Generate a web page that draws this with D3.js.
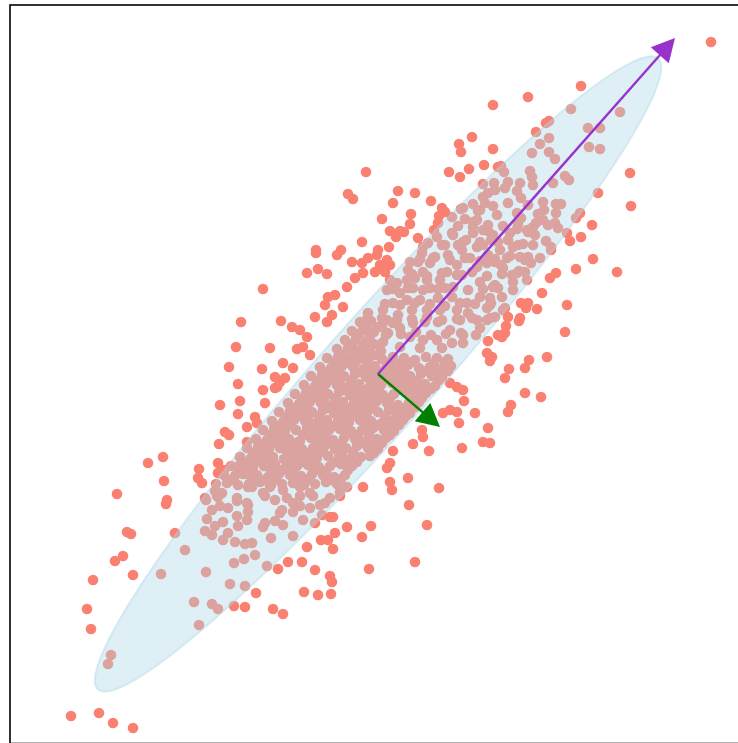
<!DOCTYPE html>
<html>
<head>
<meta charset="utf-8">
<script src="https://cdn.jsdelivr.net/npm/d3@7"></script>
<style>
  body { margin: 0; background: #fff; }
</style>
</head>
<body>
<div id="chart"></div>
<script>
// sample points, [x, y] in data units (mean at 0,0)
const upperPts = [
  [1.15,2.69],[0.94,2.37],[0.81,2.30],[0.83,2.22],[1.15,2.25],[1.06,2.09],[0.91,2.05],[0.71,2.02],[0.82,1.97],
  [-0.12,2.02],[-0.30,1.80],[-0.25,1.75],[0.20,1.83],[0.37,1.81],[0.15,1.71],[0.53,1.73],[0.33,1.60],[0.04,1.55],
  [0.32,1.50],[0.12,1.43],[0.22,1.43],[0.26,1.42],[0.18,1.37],[0.40,1.36],[0.64,1.66],[0.61,1.58],[0.56,1.44],
  [-0.16,1.32],[0.11,1.27],[0.00,1.24],[-0.37,1.24],[-0.62,1.24],[0.02,1.09],[0.12,1.09],[0.07,1.02],
  [1.20,2.07],[1.16,1.91],[1.05,1.77],[1.10,1.81],[1.00,1.63],[0.83,1.65],[0.87,1.55],[0.95,1.52],[0.74,1.57],
  [1.05,1.44],[1.10,1.43],[0.75,1.39],[0.88,1.34],[0.45,1.27],[0.64,1.29],[1.05,1.29],[1.19,1.59],
  [3.33,3.32],[2.03,2.88],[1.50,2.77],[2.52,2.01],[2.53,1.68],[2.20,1.81],[2.14,1.49],[2.03,1.37],[1.92,1.33],
  [1.93,2.65],[2.42,2.62],[1.71,2.53],[1.68,2.51],[1.58,2.42],[2.10,2.46],[2.22,2.46],[1.71,2.36],[1.62,2.30],
  [1.71,2.22],[1.54,2.21],[2.11,2.27],[2.22,2.25],[1.77,2.15],[1.23,2.08],[1.26,2.02],[1.52,2.03],[1.54,1.97],
  [1.87,1.98],[1.91,1.94],[1.42,1.91],[1.27,1.86],[1.17,1.84],[1.39,1.83],[1.43,1.76],[1.78,1.70],[1.83,1.70],
  [1.66,1.64],[1.60,1.60],[1.78,1.61],[2.02,1.61],[1.98,1.56],[1.43,1.56],[1.65,1.54],[1.58,1.51],[1.77,1.51],
  [1.80,1.46],[1.39,1.45],[1.50,1.42],[1.57,1.39],[1.89,1.41],[1.30,1.34],[1.13,1.34],[1.55,1.29],[1.73,1.27],[1.35,1.27]
];

const upperFill = [
  [0.50,1.31],[0.80,1.29],[1.20,1.32],[1.45,1.30],[1.68,1.33],
  [0.80,1.48],[0.95,1.47],[1.10,1.49],[1.25,1.48],[1.40,1.50],[1.55,1.47],[1.70,1.49],
  [0.95,1.70],[1.15,1.68],[1.30,1.71],[1.50,1.69],[1.65,1.72],
  [1.05,1.90],[1.30,1.92],[1.55,1.89],[1.75,1.91]
];

const centerUpperPts = [
  [0.85,1.66],[1.02,1.64],[1.07,1.71],[1.39,1.61],[1.49,1.44],[0.99,1.54],[0.67,1.62],[0.95,1.41],[0.74,1.41],
  [0.85,1.32],[1.02,1.32],[1.15,1.39],[1.32,1.41],[1.40,1.29],[1.22,1.24],[1.10,1.19],[0.99,1.27],[0.84,1.24],
  [0.67,1.29],[0.59,1.37],[0.60,1.51],[0.52,1.11],[0.44,1.21],[0.40,1.12],[0.32,1.12],[0.30,1.04],[0.45,1.02],
  [0.55,1.16],[0.70,1.19],[0.79,1.09],[0.92,1.16],[0.69,1.02],[0.84,0.99],[0.62,0.94],[0.49,0.94],[0.37,0.96],
  [0.29,0.94],[0.19,0.91],[0.12,0.94],[0.09,0.84],[0.22,0.81],[0.35,0.86],[0.52,0.86],[0.67,0.86],[0.74,0.77],
  [0.60,0.76],[0.42,0.74],[0.29,0.74],[0.15,0.71],[0.05,0.64],[0.09,0.54],[0.20,0.59],[0.34,0.64],[0.49,0.64],
  [0.62,0.64],[0.79,0.64],[0.89,0.71],[1.02,0.77],[1.12,0.76],[1.15,0.87],[1.02,0.92],[0.99,1.07],[1.09,1.11],
  [1.17,1.12],[1.25,1.06],[1.34,0.99],[1.35,0.92],[1.47,1.02],[1.42,1.17],[1.29,1.16],[1.24,0.77],[1.25,0.64],
  [1.09,0.66],[0.90,0.61],[0.82,0.54],[0.99,0.54],[1.12,0.56],[1.02,0.46],[0.85,0.39],[0.72,0.44],[0.60,0.52],
  [0.47,0.52],[0.35,0.51],[0.22,0.46],[0.10,0.41],[0.05,0.32],[0.32,0.37],[0.45,0.34],[0.59,0.34],[0.74,0.31],
  [0.85,0.31],[0.64,0.26],[0.42,0.26],[0.22,0.27],[0.04,0.47],[0.15,0.51]
];

const centerFill = [
  [0.42,1.15],[0.57,1.17],[0.72,1.14],[0.87,1.16],[1.02,1.13],[1.17,1.15],[1.32,1.18],[1.47,1.14],[1.62,1.16],
  [0.34,1.00],[0.49,0.98],[0.64,1.01],[0.79,0.99],[0.94,1.02],[1.09,0.98],[1.24,1.00],[1.39,1.01],
  [0.15,0.85],[0.30,0.86],[0.45,0.84],[0.60,0.85],[0.75,0.87],[0.90,0.84],[1.05,0.85],[1.20,0.86],[1.35,0.84],
  [0.07,0.70],[0.22,0.69],[0.37,0.71],[0.52,0.70],[0.67,0.68],[0.82,0.71],[0.97,0.70],[1.12,0.69],
  [-0.11,0.55],[0.04,0.56],[0.19,0.54],[0.34,0.55],[0.49,0.57],[0.64,0.54],[0.79,0.55],[0.94,0.56],[1.09,0.54],
  [-0.22,0.40],[-0.07,0.41],[0.08,0.39],[0.23,0.40],[0.38,0.42],[0.53,0.39],[0.68,0.40],[0.83,0.41],[0.98,0.39]
];

const rightPts = [
  [2.15,1.15],[1.98,1.05],[2.39,1.02],[1.78,1.01],[1.72,0.96],[1.64,0.81],[1.89,0.69],[1.50,0.71],[1.43,0.71],
  [1.48,0.66],[1.59,0.65],[1.30,0.57],[1.42,0.56],[1.41,0.53],[1.28,0.48],[1.87,0.42],[1.27,0.41],[1.24,0.37],
  [1.10,0.33],[1.69,0.17],[1.51,0.14],[1.14,0.17],[1.12,0.13],[1.47,0.06],[1.31,0.05],[1.27,-0.04],[1.47,-0.19],
  [1.63,-0.23],[1.33,-0.31],[1.30,-0.38],[1.10,-0.54],[1.12,-0.69],
  [1.23,1.09],[1.41,1.03],[1.49,0.94],[1.17,0.89],[1.13,0.71],[1.27,0.66],[1.17,0.57],[1.50,1.17],[1.53,1.11],[1.73,1.24]
];

const middlePts = [
  [-1.15,0.85],[-0.71,1.01],[-0.60,1.05],[-0.51,1.00],[-0.62,1.21],[-0.41,1.19],[-0.16,1.11],[-0.15,1.01],
  [-0.03,1.02],[-0.01,1.19],[0.09,1.14],[-0.50,0.77],[-0.43,0.79],[-0.35,0.67],[-0.53,0.69],[-0.63,0.57],
  [-0.51,0.52],[-0.46,0.59],[-0.97,0.53],[-0.86,0.47],[-0.71,0.37],[-0.81,0.25],[-0.75,0.27],[-1.08,0.26],
  [-0.95,0.11],[-0.85,0.06],[-1.16,0.05],[-1.03,-0.03],[-0.93,-0.04],[-1.01,-0.13],[-1.15,-0.16],[-1.13,-0.29],
  [-1.23,-0.43],[0.79,-0.13],[0.85,-0.16],[0.72,-0.09],[0.86,-0.27],[0.72,-0.36],[0.65,-0.39],[0.79,-0.38],
  [0.97,-0.39],[1.09,0.21],[1.20,0.39],[0.81,-0.49],[1.05,-0.68],[0.84,-0.74],[0.51,-0.77],[0.35,-0.70],
  [0.45,-0.63],[0.44,-0.56],[0.15,-0.77],[0.12,-0.89],[0.09,-0.94],[0.30,-1.04],[0.12,-1.08],[0.14,-1.16],
  [0.61,-1.14],[-0.15,-1.13],[-0.26,1.12],[-0.10,1.16],[-0.23,0.96],[-0.31,0.87],[-0.68,0.19],[-0.78,0.44],
  [-1.03,-0.14],[-1.21,-0.49],[-0.98,-0.08]
];

const lowerPts = [
  [-1.37,0.52],[-1.42,0.27],[-1.49,0.07],[-1.40,-0.10],[-1.38,-0.27],[-1.58,-0.31],[-1.40,-0.40],[-1.31,-0.53],
  [-1.53,-0.58],[-1.49,-0.61],[-1.59,-0.70],[-1.31,-0.68],[-1.60,-0.89],[-1.60,-0.99],[-1.54,-0.96],[-1.79,-0.95],
  [-1.80,-1.04],[-1.76,-1.09],[-2.15,-0.83],[-2.30,-0.89],[-2.14,-1.07],[-2.61,-1.20],[-2.11,-1.26],
  [-1.38,-0.83],[-1.39,-0.92],[-1.35,-1.00],[-1.30,-1.13],[-1.63,-1.17],[-1.60,-1.23],[-1.73,-1.24],[-1.41,-1.24],
  [-2.12,-1.30],[-2.51,-1.58],[-2.47,-1.60],[-2.03,-1.59],[-2.55,-1.82],[-2.63,-1.87],[-2.45,-2.01],[-2.85,-2.06],
  [-2.91,-2.35],[-2.87,-2.55],[-3.07,-3.42],[-2.79,-3.39],[-2.65,-3.49],[-2.45,-3.54],[-1.44,-2.32],[-1.33,-2.33],
  [-1.93,-1.76],[-2.17,-2.00],[-1.72,-1.98],[-1.84,-2.28],[-1.66,-2.30],[-1.60,-2.35],[-1.79,-2.51],[-2.67,-2.81],
  [-2.70,-2.90],[-1.48,-2.10],[-1.33,-2.12],[-1.44,-1.89],[-1.34,-1.85],[-1.43,-1.68],[-1.33,-1.70],[-1.55,-1.66],
  [-1.50,-1.59],[-1.66,-1.61],[-1.73,-1.57],[-1.63,-1.52],[-1.55,-1.48],[-1.40,-1.52],[-1.41,-1.42],[-1.31,-1.46],
  [-1.71,-1.45],[-1.66,-1.36],[-1.58,-1.32],[-1.50,-1.34],[-1.41,-1.27],[-1.72,-1.26],[-1.61,-1.22],[-1.30,-1.31],
  [0.31,-1.31],[0.49,-1.51],[-0.07,-1.52],[-0.31,-1.53],[-0.16,-1.63],[-0.43,-1.59],[-0.57,-1.66],[-0.50,-1.66],
  [-0.48,-1.43],[-0.45,-1.75],[-0.71,-1.73],[-0.90,-1.88],[-0.76,-1.88],[-1.00,-1.95],[-0.63,-1.96],[-0.48,-2.02],
  [-0.46,-2.08],[-0.09,-1.95],[0.37,-1.88],[-0.74,-2.18],[-0.60,-2.21],[-0.47,-2.20],[-1.22,-2.19],[-1.05,-2.35],
  [-0.95,-2.40],
  [-1.13,-1.22],[-1.03,-1.26],[-0.91,-1.24],[-0.78,-1.22],[-0.65,-1.22],[-0.85,-1.29],[-0.78,-1.32],[-0.68,-1.34],
  [-0.96,-1.36],[-0.53,-1.29],[-0.38,-1.22],[-1.13,-1.49],[-1.03,-1.47],[-0.95,-1.51],[-0.85,-1.62],[-1.07,-1.64],
  [-0.63,-1.49],[-1.26,-1.69],[-1.23,-1.81],[-1.11,-1.92],[-0.56,-1.41],
  [-1.31,-1.29],[-1.30,-1.38],[-0.98,-1.39],[-0.85,-1.38],[-0.75,-1.46],[-1.15,-1.53],[-0.45,-1.43],[-0.58,-1.31],
  [-0.48,-1.24],[-0.95,-1.16],[-0.78,-1.13],[-0.68,-1.19],[-0.38,-1.18],[-0.31,-1.13],[-1.08,-1.13],[-1.26,-1.13],
  [-1.15,-1.19],[-1.56,-1.19]
];

// dense core around the mean
const corePts = [
  [-0.10,0.61],[-0.18,0.52],[-0.07,0.53],[-0.26,0.43],[-0.15,0.44],[-0.04,0.42],[-0.33,0.34],[-0.22,0.35],
  [-0.11,0.33],[-0.41,0.25],[-0.30,0.26],[-0.19,0.24],[-0.08,0.25],[0.03,0.23],
  [-0.51,0.16],[-0.40,0.17],[-0.29,0.15],[-0.18,0.16],[-0.07,0.18],[0.04,0.15],[0.15,0.17],[0.26,0.16],[0.37,0.14],[0.48,0.17],[0.59,0.16],[0.70,0.15],
  [-0.58,0.07],[-0.47,0.06],[-0.36,0.08],[-0.25,0.07],[-0.14,0.05],[-0.03,0.08],[0.08,0.06],[0.19,0.07],[0.30,0.09],[0.41,0.06],[0.52,0.07],[0.63,0.05],[0.73,0.08],
  [-0.67,-0.02],[-0.56,-0.01],[-0.45,-0.03],[-0.34,-0.02],[-0.23,0.00],[-0.12,-0.03],[-0.01,-0.02],[0.10,-0.01],[0.21,-0.03],[0.32,-0.02],[0.43,0.00],[0.54,-0.02],[0.64,-0.03],
  [-0.74,-0.11],[-0.63,-0.12],[-0.52,-0.10],[-0.41,-0.11],[-0.30,-0.13],[-0.19,-0.10],[-0.08,-0.12],[0.03,-0.11],[0.14,-0.09],[0.25,-0.12],[0.36,-0.11],[0.47,-0.10],[0.57,-0.12],
  [-0.83,-0.20],[-0.72,-0.19],[-0.61,-0.21],[-0.50,-0.20],[-0.39,-0.18],[-0.28,-0.21],[-0.17,-0.20],[-0.06,-0.19],[0.05,-0.21],[0.16,-0.20],[0.27,-0.18],[0.38,-0.21],[0.48,-0.19],
  [-0.90,-0.29],[-0.79,-0.30],[-0.68,-0.28],[-0.57,-0.29],[-0.46,-0.31],[-0.35,-0.28],[-0.24,-0.29],[-0.13,-0.30],[-0.02,-0.28],[0.09,-0.29],[0.20,-0.31],[0.31,-0.29],[0.41,-0.28],
  [-0.99,-0.38],[-0.88,-0.37],[-0.77,-0.39],[-0.66,-0.38],[-0.55,-0.36],[-0.44,-0.39],[-0.33,-0.38],[-0.22,-0.37],[-0.11,-0.39],[0.00,-0.38],[0.11,-0.36],[0.22,-0.38],[0.32,-0.39],
  [-1.06,-0.47],[-0.95,-0.48],[-0.84,-0.46],[-0.73,-0.47],[-0.62,-0.49],[-0.51,-0.46],[-0.40,-0.47],[-0.29,-0.48],[-0.18,-0.46],[-0.07,-0.47],[0.04,-0.49],[0.15,-0.47],[0.25,-0.46],
  [-1.15,-0.56],[-1.04,-0.55],[-0.93,-0.57],[-0.82,-0.56],[-0.71,-0.54],[-0.60,-0.57],[-0.49,-0.56],[-0.38,-0.55],[-0.27,-0.57],[-0.16,-0.56],[-0.05,-0.54],[0.06,-0.56],[0.16,-0.57],
  [-1.22,-0.65],[-1.11,-0.66],[-1.00,-0.64],[-0.89,-0.65],[-0.78,-0.67],[-0.67,-0.64],[-0.56,-0.65],[-0.45,-0.66],[-0.34,-0.64],[-0.23,-0.65],[-0.12,-0.67],[-0.01,-0.65],[0.08,-0.64],
  [-1.31,-0.74],[-1.20,-0.73],[-1.09,-0.75],[-0.98,-0.74],[-0.87,-0.72],[-0.76,-0.75],[-0.65,-0.74],[-0.54,-0.73],[-0.43,-0.75],[-0.32,-0.74],[-0.21,-0.72],[-0.10,-0.74],[0.00,-0.75],
  [-1.38,-0.83],[-1.27,-0.84],[-1.16,-0.82],[-1.05,-0.83],[-0.94,-0.85],[-0.83,-0.82],[-0.72,-0.83],[-0.61,-0.84],[-0.50,-0.82],[-0.39,-0.83],[-0.28,-0.85],[-0.17,-0.83],[-0.08,-0.82],
  [-1.47,-0.92],[-1.36,-0.91],[-1.25,-0.93],[-1.14,-0.92],[-1.03,-0.90],[-0.92,-0.93],[-0.81,-0.92],[-0.70,-0.91],[-0.59,-0.93],[-0.48,-0.92],[-0.37,-0.90],[-0.26,-0.92],
  [-1.54,-1.01],[-1.43,-1.02],[-1.32,-1.00],[-1.21,-1.01],[-1.10,-1.03],[-0.99,-1.00],[-0.88,-1.01],[-0.77,-1.02],[-0.66,-1.00],[-0.55,-1.01],[-0.44,-1.03],[-0.33,-1.01],
  [-1.62,-1.10],[-1.51,-1.09],[-1.40,-1.11],[-1.29,-1.10],[-1.18,-1.08],[-1.07,-1.11],[-0.96,-1.10],[-0.85,-1.09],[-0.74,-1.11],[-0.63,-1.10],[-0.52,-1.08],[-0.41,-1.10]
];

// points sitting in the gaps of the core
const coreFill = [
  [-0.11,0.48],[0.00,0.47],[-0.19,0.39],[-0.08,0.38],[-0.26,0.30],[-0.15,0.29],[-0.04,0.30],
  [-0.34,0.20],[-0.23,0.21],[-0.12,0.20],[-0.01,0.19],
  [-0.44,0.12],[-0.33,0.11],[-0.22,0.12],[-0.11,0.11],[0.12,0.12],[0.23,0.11],[0.34,0.12],[0.56,0.11],[0.67,0.12],
  [-0.51,0.02],[-0.40,0.03],[-0.18,0.02],[-0.07,0.03],[0.04,0.02],[0.15,0.03],[0.26,0.02],[0.48,0.03],[0.59,0.02],[0.70,0.03],
  [-0.60,-0.07],[-0.49,-0.06],[-0.38,-0.07],[-0.27,-0.06],[-0.05,-0.07],[0.06,-0.06],[0.17,-0.07],[0.28,-0.06],[0.39,-0.07],[0.61,-0.06],
  [-0.67,-0.16],[-0.56,-0.15],[-0.34,-0.16],[-0.23,-0.15],[-0.12,-0.16],[-0.01,-0.15],[0.21,-0.16],[0.32,-0.15],[0.43,-0.16],[0.53,-0.15],
  [-0.76,-0.25],[-0.65,-0.24],[-0.54,-0.25],[-0.43,-0.24],[-0.21,-0.25],[-0.10,-0.24],[0.01,-0.25],[0.12,-0.24],[0.34,-0.25],[0.44,-0.24],
  [-0.83,-0.34],[-0.72,-0.33],[-0.50,-0.34],[-0.39,-0.33],[-0.28,-0.34],[-0.17,-0.33],[-0.06,-0.34],[0.16,-0.33],[0.27,-0.34],[0.37,-0.33],
  [-0.92,-0.43],[-0.81,-0.42],[-0.70,-0.43],[-0.59,-0.42],[-0.37,-0.43],[-0.26,-0.42],[-0.15,-0.43],[0.07,-0.42],[0.18,-0.43],[0.28,-0.42],
  [-0.99,-0.52],[-0.88,-0.51],[-0.66,-0.52],[-0.55,-0.51],[-0.44,-0.52],[-0.33,-0.51],[-0.11,-0.52],[0.00,-0.51],[0.11,-0.52],[0.21,-0.51],
  [-1.08,-0.61],[-0.97,-0.60],[-0.75,-0.61],[-0.64,-0.60],[-0.53,-0.61],[-0.31,-0.60],[-0.20,-0.61],[-0.09,-0.60],[0.12,-0.61],
  [-1.15,-0.70],[-1.04,-0.69],[-0.93,-0.70],[-0.82,-0.69],[-0.60,-0.70],[-0.49,-0.69],[-0.38,-0.70],[-0.16,-0.69],[-0.05,-0.70],[0.04,-0.69],
  [-1.24,-0.79],[-1.13,-0.78],[-0.91,-0.79],[-0.80,-0.78],[-0.69,-0.79],[-0.58,-0.78],[-0.36,-0.79],[-0.25,-0.78],[-0.04,-0.79],
  [-1.31,-0.88],[-1.20,-0.87],[-1.09,-0.88],[-0.87,-0.87],[-0.76,-0.88],[-0.65,-0.87],[-0.43,-0.88],[-0.32,-0.87],[-0.21,-0.88],
  [-1.40,-0.97],[-1.29,-0.96],[-1.07,-0.97],[-0.96,-0.96],[-0.85,-0.97],[-0.63,-0.96],[-0.52,-0.97],[-0.30,-0.96],
  [-1.47,-1.06],[-1.25,-1.05],[-1.14,-1.06],[-1.03,-1.05],[-0.81,-1.06],[-0.70,-1.05],[-0.48,-1.06],[-0.37,-1.05]
];

// principal components drawn from the mean, and the 2-d spread ellipse
const meanPt = [0, 0];
const pcVectors = [[2.97, 3.36], [0.62, -0.53]];
const ellipseAxes = [4.22, 0.56];
const ellipseAngle = 48.4;

const width = 738;
const height = 743;

const svg = d3.select("#chart")
    .append("svg")
    .attr("width", width)
    .attr("height", height);

const x = d3.scaleLinear().domain([-3.68, 3.70]).range([10, 748]);
const y = d3.scaleLinear().domain([-3.69, 3.69]).range([743, 5]);

const allPts = corePts.concat(coreFill, centerUpperPts, centerFill, upperPts, upperFill, rightPts, middlePts, lowerPts);

svg.append("g")
    .selectAll("circle")
    .data(allPts)
    .enter()
    .append("circle")
    .attr("cx", d => x(d[0]))
    .attr("cy", d => y(d[1]))
    .attr("r", 5.3)
    .attr("fill", "#fa8072");

svg.append("ellipse")
    .attr("cx", 0)
    .attr("cy", 0)
    .attr("rx", x(ellipseAxes[0]) - x(0))
    .attr("ry", x(ellipseAxes[1]) - x(0))
    .attr("transform", `translate(${x(meanPt[0])},${y(meanPt[1])}) rotate(${-ellipseAngle})`)
    .attr("fill", "lightblue")
    .attr("fill-opacity", 0.4)
    .attr("stroke", "lightblue")
    .attr("stroke-opacity", 0.4)
    .attr("stroke-width", 2);

const pcColors = ["darkorchid", "green"];
const headLen = 23, headHalf = 12;

pcVectors.forEach((v, i) => {
    const x0 = x(meanPt[0]), y0 = y(meanPt[1]);
    const x1 = x(v[0]), y1 = y(v[1]);
    const len = Math.hypot(x1 - x0, y1 - y0);
    const ux = (x1 - x0) / len, uy = (y1 - y0) / len;
    const bx = x1 - ux * headLen, by = y1 - uy * headLen;

    svg.append("line")
        .attr("x1", x0).attr("y1", y0)
        .attr("x2", bx + ux * 2).attr("y2", by + uy * 2)
        .attr("stroke", pcColors[i])
        .attr("stroke-width", 2.4);

    svg.append("polygon")
        .attr("points", [
            [x1, y1],
            [bx - uy * headHalf, by + ux * headHalf],
            [bx + uy * headHalf, by - ux * headHalf]
        ].map(p => p.join(",")).join(" "))
        .attr("fill", pcColors[i]);
});

// axes frame (right and bottom edges fall outside the window)
svg.append("rect")
    .attr("x", 10)
    .attr("y", 5)
    .attr("width", 740)
    .attr("height", 738.5)
    .attr("fill", "none")
    .attr("stroke", "black")
    .attr("stroke-width", 1.6);
</script>
</body>
</html>
